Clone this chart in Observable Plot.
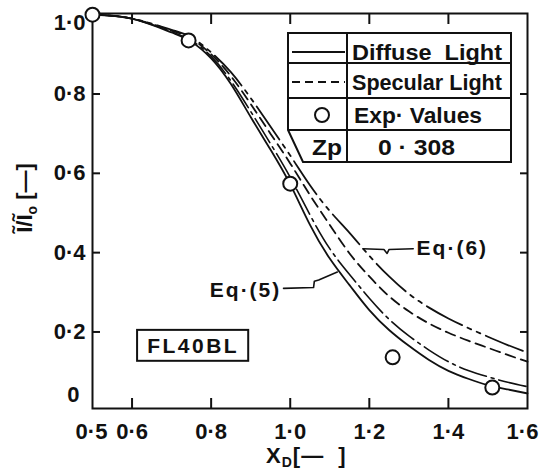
<!DOCTYPE html>
<html><head><meta charset="utf-8">
<script src="https://cdn.jsdelivr.net/npm/d3@7"></script>
<script src="https://cdn.jsdelivr.net/npm/@observablehq/plot@0.6"></script>
<style>
body{margin:0;background:#fff;}
</style>
</head><body>
<div id="chart"></div>
<script>
// ---- data ----
const xGrid = [0.5,0.6,0.7,0.75,0.8,0.85,0.9,0.95,1.0,1.05,1.1,1.15,1.2,1.25,1.3,1.35,1.4,1.45,1.5,1.55,1.6];
const eq5Diffuse  = [1.0,0.99,0.955,0.932,0.89,0.825,0.742,0.66,0.572,0.47,0.385,0.318,0.255,0.205,0.165,0.13,0.102,0.082,0.066,0.055,0.045];
const eq5Specular = [1.0,0.99,0.957,0.935,0.895,0.833,0.756,0.675,0.59,0.495,0.41,0.345,0.285,0.232,0.19,0.155,0.125,0.103,0.087,0.073,0.062];
const eq6Specular = [1.0,0.99,0.96,0.94,0.9,0.845,0.775,0.7,0.625,0.545,0.47,0.398,0.34,0.29,0.252,0.222,0.198,0.178,0.16,0.142,0.125];
const eq6Diffuse  = [1.0,0.99,0.962,0.943,0.905,0.855,0.79,0.718,0.645,0.57,0.505,0.45,0.392,0.34,0.296,0.262,0.234,0.21,0.188,0.167,0.148];
const expX = [0.5,0.743,1.0,1.259,1.511];
const expY = [1.0,0.935,0.574,0.136,0.060];
const xTicks = [0.5,0.6,0.8,1.0,1.2,1.4,1.6];
const xInnerTicks = [0.6,0.8,1.0,1.2,1.4];
const yTicks = [0.2,0.4,0.6,0.8];
const yBottomTick = [0];
const yTopTick = [1.0];
const eq5Label = {x:0.887, y:0.305, text:"Eq·(5)"};
const eq6Label = {x:1.41, y:0.41, text:"Eq·(6)"};
const eq5Leader = [[0.983,0.310],[1.059,0.312],[1.061,0.328],[1.072,0.331],[1.119,0.351]];
const eq6Leader = [[1.311,0.410],[1.250,0.408],[1.245,0.398],[1.237,0.408],[1.184,0.410]];
const lampBox = {x1:0.614, x2:0.895, y1:0.126, y2:0.204, text:"FL40BL"};

const fmt = d => d === 0 ? "0" : d3.format(".1f")(d).replace(".", "·");
const toRows = ys => xGrid.map((x,i)=>({x, y:ys[i]}));
const FONT = "Liberation Sans, Arial, sans-serif";

const plot = Plot.plot({
  width:540, height:470,
  marginLeft:92, marginRight:13, marginTop:13, marginBottom:62,
  x:{domain:[0.5,1.6]},
  y:{domain:[0.007,1.003]},
  style:{fontFamily:FONT, fontSize:"22px", color:"#111", background:"#fff"},
  marks:[
    Plot.frame({strokeWidth:2, stroke:"#111"}),
    Plot.axisX({ticks:xInnerTicks, tickSize:-10, strokeWidth:2, text:null, label:null}),
    Plot.axisX({anchor:"top", ticks:xInnerTicks, tickSize:-10, strokeWidth:2, text:null, label:null}),
    Plot.axisX({ticks:xTicks, tickSize:0, tickPadding:15, tickFormat:fmt, fontSize:22, fontWeight:"bold", label:null}),
    Plot.axisY({ticks:yTicks, tickSize:-8, strokeWidth:2, tickPadding:15, tickFormat:fmt, fontSize:22, fontWeight:"bold", label:null}),
    Plot.axisY({anchor:"right", ticks:yTicks, tickSize:-8, strokeWidth:2, text:null, label:null}),
    Plot.text(yBottomTick, {x:0.5, y:d=>d, text:fmt, textAnchor:"end", dx:-13, dy:-16, fontSize:22, fontWeight:"bold"}),
    Plot.text(yTopTick, {x:0.5, y:d=>d, text:fmt, textAnchor:"end", dx:-7, dy:8, fontSize:22, fontWeight:"bold"}),
    Plot.line(toRows(eq5Diffuse), {x:"x", y:"y", curve:"natural", stroke:"#111", strokeWidth:1.8}),
    Plot.line(toRows(eq5Specular), {x:"x", y:"y", curve:"natural", stroke:"#111", strokeWidth:1.6, strokeDasharray:"28,5,3,5"}),
    Plot.line(toRows(eq6Specular), {x:"x", y:"y", curve:"natural", stroke:"#111", strokeWidth:1.8, strokeDasharray:"10,6"}),
    Plot.line(toRows(eq6Diffuse), {x:"x", y:"y", curve:"natural", stroke:"#111", strokeWidth:1.8, strokeDasharray:"40,6,4,6,4,6"}),
    Plot.line(eq5Leader, {x:d=>d[0], y:d=>d[1], stroke:"#111", strokeWidth:1.6}),
    Plot.line(eq6Leader, {x:d=>d[0], y:d=>d[1], stroke:"#111", strokeWidth:1.6}),
    Plot.text([eq5Label, eq6Label], {x:"x", y:"y", text:"text", fontSize:21, fontWeight:"bold"}),
    Plot.rect([lampBox], {x1:"x1", x2:"x2", y1:"y1", y2:"y2", fill:"none", stroke:"#111", strokeWidth:2}),
    Plot.text([lampBox], {x:d=>(d.x1+d.x2)/2, y:d=>(d.y1+d.y2)/2, text:"text", fontSize:21, fontWeight:"bold"}),
    Plot.dot(expX.map((x,i)=>({x, y:expY[i]})), {x:"x", y:"y", r:7, fill:"#fff", stroke:"#111", strokeWidth:2})
  ]
});
document.getElementById("chart").appendChild(plot);

// ---- typographic touch-ups (letter spacing of the lettered labels) ----
const svg = d3.select(plot);
svg.selectAll("text").each(function(){
  const t = this.textContent, s = d3.select(this);
  if (t === "1·6") s.attr("dx", -5);
  if (t === "0·5") s.attr("dx", -1);
  if (t === "FL40BL") s.attr("letter-spacing", 2.5);
  if (t.startsWith("Eq")) s.attr("letter-spacing", 2);
});

// ---- axis titles and legend ----
const yl = svg.append("text").attr("transform","translate(32,198) rotate(-90)")
  .attr("text-anchor","middle").attr("font-family",FONT).attr("font-size",22).attr("font-weight","bold").attr("fill","#111");
yl.append("tspan").text("Ĩ/Ĩ");
yl.append("tspan").attr("font-size",14).attr("dy",5).text("o");
yl.append("tspan").attr("dy",-5).text(" [—]");
const xl = svg.append("text").attr("x",266).attr("y",463).attr("text-anchor","start").attr("letter-spacing",1)
  .attr("font-family",FONT).attr("font-size",22).attr("font-weight","bold").attr("fill","#111");
xl.append("tspan").text("X");
xl.append("tspan").attr("font-size",14).attr("dy",4).text("D");
xl.append("tspan").attr("dy",-4).text("[—  ]");

const lg = svg.append("g").attr("fill","none").attr("stroke","#111").attr("stroke-width",2);
lg.append("path").attr("d","M288,33H511V162H303L288,130Z").attr("fill","#fff");
lg.append("path").attr("d","M288,63H511M288,98H511M288,130H511M347,33V162");
lg.append("path").attr("d","M292,52H345");
lg.append("path").attr("d","M292,82H345").attr("stroke-dasharray","8,5");
lg.append("circle").attr("cx",322).attr("cy",115).attr("r",7);
const lt = [
  {x:352, y:52, t:"Diffuse  Light", w:150},
  {x:352, y:82, t:"Specular Light", w:150},
  {x:354, y:115, t:"Exp· Values", w:128},
  {x:378, y:147, t:"0 · 308", w:77},
  {x:312, y:147, t:"Zp", w:30}
];
svg.append("g").selectAll("text").data(lt).join("text")
  .attr("x",d=>d.x).attr("y",d=>d.y).attr("dy","0.35em")
  .attr("text-anchor","start").attr("font-family",FONT)
  .attr("font-size",22).attr("font-weight","bold").attr("fill","#111")
  .attr("textLength",d=>d.w).attr("lengthAdjust","spacingAndGlyphs")
  .text(d=>d.t);
</script>
</body></html>
